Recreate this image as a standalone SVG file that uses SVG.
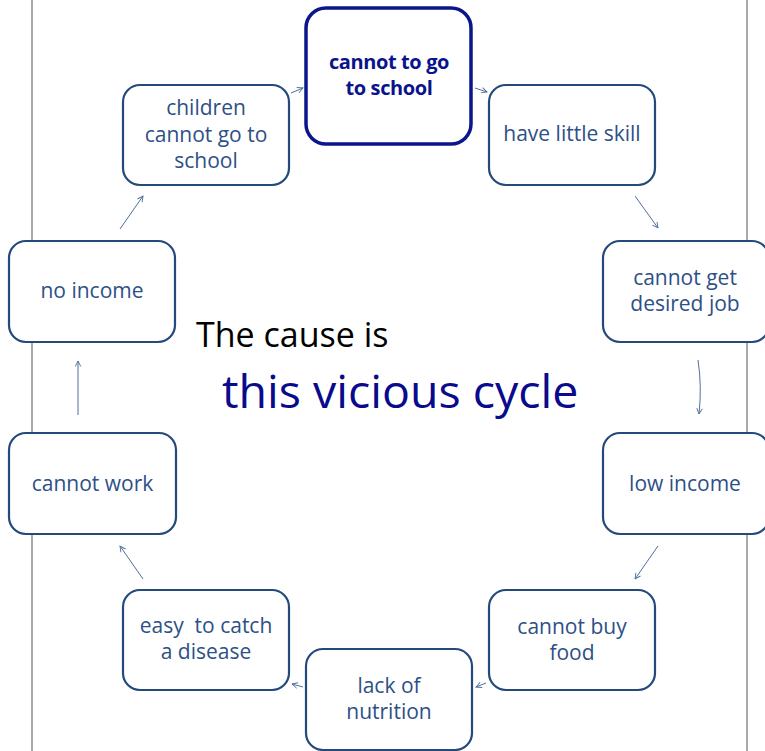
<svg xmlns="http://www.w3.org/2000/svg" width="765" height="751" viewBox="0 0 765 751">
<style>
.box{fill:#fff;stroke:#244a7c;stroke-width:2.2}
.main{fill:#fff;stroke:#0b168a;stroke-width:3.5}
.t{font-family:"Open Sans","Liberation Sans",sans-serif;font-size:21px;fill:#2d5086;text-anchor:middle;white-space:pre}
.tb{font-family:"Open Sans","Liberation Sans",sans-serif;font-size:20px;font-weight:bold;fill:#0b138c;text-anchor:middle;letter-spacing:-0.4px}
.c{fill:none;stroke:#4f6f9c;stroke-width:1}
.v{stroke:#555;stroke-width:1}
</style>
<defs>
<marker id="ah" viewBox="0 0 10 10" refX="9" refY="5" markerWidth="7" markerHeight="7" orient="auto" markerUnits="userSpaceOnUse">
<path d="M1,1 L9,5 L1,9" fill="none" stroke="#4f6f9c" stroke-width="1.3"/>
</marker>
</defs>
<line class="v" x1="32" y1="0" x2="32" y2="751"/>
<line class="v" x1="747" y1="0" x2="747" y2="751"/>
<g id="connectors">
<line class="c" x1="291" y1="93" x2="303" y2="88" marker-end="url(#ah)"/>
<line class="c" x1="475" y1="88" x2="487" y2="92" marker-end="url(#ah)"/>
<line class="c" x1="635" y1="196" x2="658" y2="228" marker-end="url(#ah)"/>
<path class="c" d="M698,360 Q702,386 699,414" marker-end="url(#ah)"/>
<line class="c" x1="658" y1="546" x2="635" y2="579" marker-end="url(#ah)"/>
<line class="c" x1="486" y1="683" x2="476" y2="687" marker-end="url(#ah)"/>
<line class="c" x1="303" y1="687" x2="292" y2="684" marker-end="url(#ah)"/>
<line class="c" x1="143" y1="579" x2="120" y2="546" marker-end="url(#ah)"/>
<line class="c" x1="78" y1="415" x2="78" y2="361" marker-end="url(#ah)"/>
<line class="c" x1="120" y1="229" x2="143" y2="196" marker-end="url(#ah)"/>
</g>
<g id="n-school">
<rect class="main" x="306" y="8" width="165" height="136" rx="20"/>
<text class="tb" x="389" y="69">cannot to go</text>
<text class="tb" x="389" y="95">to school</text>
</g>
<g id="n-skill">
<rect class="box" x="489" y="85" width="166" height="100" rx="17"/>
<text class="t" x="572" y="141">have little skill</text>
</g>
<g id="n-job">
<rect class="box" x="603" y="241" width="166" height="101" rx="17"/>
<text class="t" x="685" y="285">cannot get</text>
<text class="t" x="685" y="311">desired job</text>
</g>
<g id="n-low">
<rect class="box" x="603" y="433" width="166" height="101" rx="17"/>
<text class="t" x="685" y="491">low income</text>
</g>
<g id="n-food">
<rect class="box" x="489" y="590" width="166" height="100" rx="17"/>
<text class="t" x="572" y="634">cannot buy</text>
<text class="t" x="572" y="660">food</text>
</g>
<g id="n-nutrition">
<rect class="box" x="306" y="649" width="166" height="101" rx="17"/>
<text class="t" x="389" y="693">lack of</text>
<text class="t" x="389" y="719">nutrition</text>
</g>
<g id="n-disease">
<rect class="box" x="123" y="590" width="166" height="100" rx="17"/>
<text class="t" x="206" y="633">easy  to catch</text>
<text class="t" x="206" y="659">a disease</text>
</g>
<g id="n-work">
<rect class="box" x="9" y="433" width="167" height="101" rx="17"/>
<text class="t" x="92.5" y="491">cannot work</text>
</g>
<g id="n-noincome">
<rect class="box" x="9" y="241" width="166" height="101" rx="17"/>
<text class="t" x="92" y="298">no income</text>
</g>
<g id="n-children">
<rect class="box" x="123" y="85" width="166" height="100" rx="17"/>
<text class="t" x="206" y="115">children</text>
<text class="t" x="206" y="142">cannot go to</text>
<text class="t" x="206" y="168">school</text>
</g>
<g id="title">
<text x="196" y="347" font-family="'Open Sans','Liberation Sans',sans-serif" font-size="34" fill="#000">The cause is</text>
<text x="222" y="408" font-family="'Open Sans','Liberation Sans',sans-serif" font-size="46.5" fill="#0a0a8c">this vicious cycle</text>
</g>
</svg>
